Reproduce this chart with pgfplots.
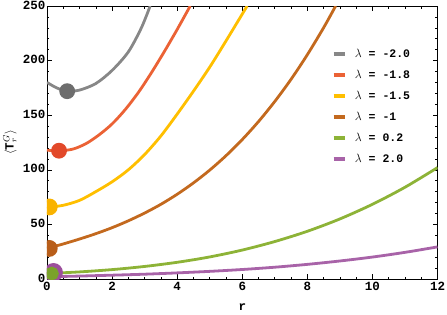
\documentclass[border=0pt]{standalone}
\usepackage{fontspec}
\setmainfont{Liberation Mono}
\usepackage{pgfplots}
\pgfplotsset{compat=1.18}
\definecolor{cgray}{HTML}{878787}
\definecolor{dgray}{HTML}{6D6D6D}
\definecolor{cred}{HTML}{EB6235}
\definecolor{dred}{HTML}{E2492A}
\definecolor{cyel}{HTML}{FFBF00}
\definecolor{dyel}{HTML}{F9B300}
\definecolor{cbrn}{HTML}{C3691E}
\definecolor{dbrn}{HTML}{B85E1A}
\definecolor{cgrn}{HTML}{8DB337}
\definecolor{dgrn}{HTML}{7AA22A}
\definecolor{cpur}{HTML}{A863A8}
\definecolor{dpur}{HTML}{9C4F9C}
\begin{document}
\begin{tikzpicture}
\path[use as bounding box] (-47pt,-35pt) rectangle (400pt,279pt);
\begin{axis}[
  at={(0pt,0pt)}, anchor=south west,
  scale only axis, width=390.5pt, height=273pt,
  xmin=0, xmax=12, ymin=0, ymax=250,
  xtick={0,2,...,12}, ytick={0,50,...,250},
  minor x tick num=3, minor y tick num=4,
  tick pos=both, tick align=inside,
  major tick length=5pt, minor tick length=2.5pt,
  axis line style={line width=0.9pt},
  every tick/.style={black, line width=0.6pt},
  tick label style={font=\bfseries\fontsize{12.5}{14}\selectfont},
  yticklabel style={inner xsep=1.5pt, yshift=1pt},
  xticklabel style={inner ysep=3pt},
  /pgf/number format/assume math mode=true,
  xlabel={\bfseries r},
  xlabel style={font=\fontsize{12.5}{14}\selectfont, at={(axis description cs:0.5,-0.117)}, anchor=base},
  ylabel={$\langle\mathbf{T}^{G}_{r}\rangle$},
  ylabel style={font=\fontsize{12.5}{14}\selectfont, at={(axis description cs:-0.095,0.5)}, anchor=center, rotate=0},
  clip marker paths=true,
  legend cell align=left,
  legend style={draw=none, fill=none, at={(0.7289,0.8462)}, anchor=north west,
    inner sep=0pt, row sep=9pt, column sep=0pt,
    font=\bfseries\fontsize{11.5}{14}\selectfont,
    nodes={inner xsep=0pt, inner ysep=0pt, text height=9pt, text depth=3pt}},
  legend image code/.code={\draw[line width=3.5pt] (0pt,0pt)--(11pt,0pt); \path (20pt,0pt);},
  every axis plot/.append style={line width=2.8pt, no marks, smooth, tension=0.5},
]
\addplot[cgray] coordinates {(0,180) (0.3,175) (0.62,172) (1,173) (1.5,179) (2,191) (2.5,208) (2.9,230) (3.17,250)};
\addlegendentry{$\lambda$ = -2.0}
\addplot[cred] coordinates {(0,118) (0.37,117.3) (0.8,119) (1.2,124) (1.6,132) (2.0,142) (2.4,155) (2.8,170.5) (3.2,188.5) (3.6,208) (4.0,228.5) (4.4,250)};
\addlegendentry{$\lambda$ = -1.8}
\addplot[cyel] coordinates {(0,66) (0.1,66) (0.5,67.5) (1,72) (1.5,80) (2,89) (2.5,100) (3,114) (3.5,131) (4,151) (4.5,172) (5,194) (5.5,218) (6.15,250)};
\addlegendentry{$\lambda$ = -1.5}
\addplot[cbrn] coordinates {(0,28) (0.5,32.1) (1,36.6) (1.5,41.5) (2,47.0) (2.5,53.3) (3,60.4) (3.5,68.4) (4,77.6) (4.5,88.0) (5,99.7) (5.5,112.9) (6,127.7) (6.5,144.2) (7,162.6) (7.5,182.9) (8,205.4) (8.5,230.1) (8.87,250)};
\addlegendentry{$\lambda$ = -1}
\addplot[cgrn] coordinates {(0,5) (1,6.5) (2,8.6) (3,11.5) (4,15.3) (5,20.2) (6,26.5) (7,34.3) (8,43.7) (9,55.0) (10,68.4) (11,84.0) (12,102)};
\addlegendentry{$\lambda$ = 0.2}
\addplot[cpur] coordinates {(0,2) (1,2.7) (2,3.5) (3,4.4) (4,5.6) (5,7.0) (6,8.7) (7,10.8) (8,13.4) (9,16.5) (10,20.1) (11,24.4) (12,29.4)};
\addlegendentry{$\lambda$ = 2.0}
\addplot[forget plot, only marks, mark=*, mark size=6.5pt, dgray, mark options={draw=none, fill=dgray}] coordinates {(0.62,172)};
\addplot[forget plot, only marks, mark=*, mark size=6.5pt, dred, mark options={draw=none, fill=dred}] coordinates {(0.37,117.5)};
\addplot[forget plot, only marks, mark=*, mark size=7pt, dyel, mark options={draw=none, fill=dyel}] coordinates {(0.07,66)};
\addplot[forget plot, only marks, mark=*, mark size=7pt, dbrn, mark options={draw=none, fill=dbrn}] coordinates {(0.07,28)};
\addplot[forget plot, only marks, mark=*, mark size=8pt, dpur, mark options={draw=none, fill=dpur}] coordinates {(0.2,6)};
\addplot[forget plot, only marks, mark=*, mark size=5.5pt, dgrn, mark options={draw=none, fill=dgrn}] coordinates {(0.15,5)};
\end{axis}
\end{tikzpicture}
\end{document}
